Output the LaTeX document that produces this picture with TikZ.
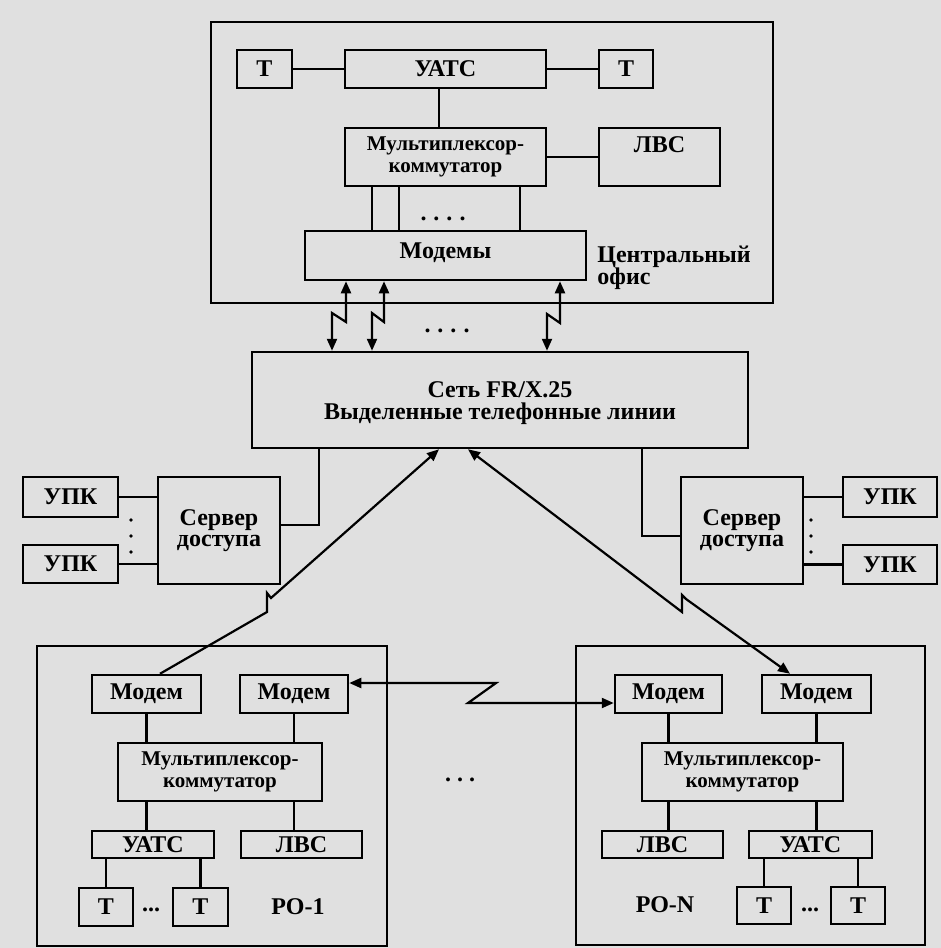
\documentclass[tikz,border=0pt]{standalone}
\usepackage{fontspec}
\setmainfont{Liberation Serif}
\usetikzlibrary{arrows.meta}
\definecolor{bgscan}{RGB}{224,224,224}
\newcommand\dgfont{\fontsize{12}{11}\selectfont\bfseries}
\newcommand\mxfont{\fontsize{10.5}{11}\selectfont\bfseries}
\begin{document}
\begin{tikzpicture}[x=0.5pt,y=-0.5pt,
  box/.style={draw=black, line width=1.25pt, inner sep=0pt, align=center, font=\dgfont},
  mxbox/.style={box, font=\mxfont},
  lbl/.style={inner sep=0pt, align=center, font=\dgfont},
  ln/.style={draw=black, line width=1.1pt},
  >={Triangle[length=6pt,width=5pt]}]
\fill[bgscan] (0,0) rectangle (941,948);
\useasboundingbox (0,0) rectangle (941,948);

% ---------- central office ----------
\node[box, minimum width=281pt, minimum height=140.5pt] (co) at (492,162.5) {};
\node[box, minimum width=27.5pt, minimum height=19pt] (ta) at (264.5,69) {Т};
\node[box, minimum width=100.5pt, minimum height=19pt] (ua) at (445.5,69) {УАТС};
\node[box, minimum width=27pt, minimum height=19pt] (tb) at (626,69) {Т};
\node[mxbox, minimum width=100.5pt, minimum height=29pt] (mxa) at (445.5,157) {Мультиплексор-\\коммутатор};
\node[box, minimum width=60.5pt, minimum height=29pt] (la) at (659.5,157) {ЛВС\\[1pt]\mbox{}};
\node[box, minimum width=140.5pt, minimum height=24.5pt] (mda) at (445.5,255.5) {Модемы\\[-6pt]\mbox{}};
\node[lbl, anchor=west, align=left] (coname) at (597,268) {Центральный\\офис};
\node[lbl] (dots1) at (443,219) {.\hspace{3.5pt}.\hspace{3.5pt}.\hspace{3.5pt}.};

\draw[ln] (ta) -- (ua);
\draw[ln] (ua) -- (tb);
\coordinate (x439) at (439,0);
\draw[ln] (ua.south -| x439) -- (mxa.north -| x439);
\draw[ln] (mxa) -- (la);
\foreach \k/\xx in {k1/372,k2/399,k3/520}{
  \coordinate (\k) at (\xx,0);
  \draw[ln] (mxa.south -| \k) -- (mda.north -| \k);
}

% ---------- network ----------
\node[box, minimum width=248pt, minimum height=48pt] (net) at (500,400) {};
\node[lbl] (nettext) at (500,403) {Сеть FR/X.25\\Выделенные телефонные линии};
\node[lbl] (dots2) at (447,331) {.\hspace{3.5pt}.\hspace{3.5pt}.\hspace{3.5pt}.};

\coordinate (a1u) at (346,322); \coordinate (a1l) at (332,313);
\coordinate (a2u) at (384,322); \coordinate (a2l) at (372,313);
\coordinate (a3u) at (560,323); \coordinate (a3l) at (547,314);
\draw[ln,<->] (mda.south -| a1u) -- (a1u) -- (a1l) -- (net.north -| a1l);
\draw[ln,<->] (mda.south -| a2u) -- (a2u) -- (a2l) -- (net.north -| a2l);
\draw[ln,<->] (mda.south -| a3u) -- (a3u) -- (a3l) -- (net.north -| a3l);

% ---------- access servers ----------
\node[box, minimum width=61pt, minimum height=53.5pt] (sl) at (219,530.5) {Сервер\\[-0.5pt]доступа};
\node[box, minimum width=47.5pt, minimum height=20pt] (ul1) at (70.5,497) {УПК};
\node[box, minimum width=47.5pt, minimum height=19pt] (ul2) at (70.5,564) {УПК};
\node[box, minimum width=61pt, minimum height=53.5pt] (sr) at (742,530.5) {Сервер\\[-0.5pt]доступа};
\node[box, minimum width=47pt, minimum height=20pt] (ur1) at (890,497) {УПК};
\node[box, minimum width=47pt, minimum height=19.5pt] (ur2) at (890,564.5) {УПК};

\draw[ln] (ul1) -- (sl.west |- ul1);
\draw[ln] (ul2) -- (sl.west |- ul2);
\draw[ln] (ur1) -- (sr.east |- ur1);
\draw[ln] (ur2) -- (sr.east |- ur2);
\foreach \yy in {520,536,552}{
  \fill (131,\yy) circle (0.9pt);
  \fill (811,\yy) circle (0.9pt);
}
\coordinate (c1) at (319,525);
\draw[ln] (sl.east |- c1) -| (net.south -| c1);
\coordinate (c2) at (642,536);
\draw[ln] (net.south -| c2) |- (sr.west |- c2);

% ---------- RO-1 ----------
\node[box, minimum width=175pt, minimum height=150pt] (ro1) at (212,796) {};
\node[box, minimum width=54.5pt, minimum height=19pt] (m1l) at (146.5,694) {Модем};
\node[box, minimum width=54pt, minimum height=19pt] (m1r) at (294,694) {Модем};
\node[mxbox, minimum width=102pt, minimum height=29pt] (mx1) at (220,772) {Мультиплексор-\\коммутатор};
\node[box, minimum width=61pt, minimum height=13.5pt] (u1) at (153,844.5) {УАТС};
\node[box, minimum width=60.5pt, minimum height=13.5pt] (l1) at (301.5,844.5) {ЛВС};
\node[box, minimum width=27pt, minimum height=19pt] (t1a) at (106,907) {Т};
\node[box, minimum width=27.5pt, minimum height=19pt] (t1b) at (200.5,907) {Т};
\node[lbl] (d1) at (151,910) {...};
\node[lbl] (ro1name) at (298,907) {РО-1};

\draw[ln] (m1l.south) -- (m1l.south |- mx1.north);
\draw[ln] (m1r.south) -- (m1r.south |- mx1.north);
\draw[ln] (mx1.south -| m1l) -- (u1.north -| m1l);
\draw[ln] (mx1.south -| m1r) -- (l1.north -| m1r);
\draw[ln] (u1.south -| t1a) -- (t1a.north);
\draw[ln] (u1.south -| t1b) -- (t1b.north);

% ---------- RO-N ----------
\node[box, minimum width=174.5pt, minimum height=149.5pt] (ron) at (750.5,795.5) {};
\node[box, minimum width=53.5pt, minimum height=19pt] (mnl) at (668.5,694) {Модем};
\node[box, minimum width=54.5pt, minimum height=19pt] (mnr) at (816.5,694) {Модем};
\node[mxbox, minimum width=100.5pt, minimum height=29pt] (mxn) at (742.5,772) {Мультиплексор-\\коммутатор};
\node[box, minimum width=60.5pt, minimum height=13.5pt] (lnn) at (662.5,844.5) {ЛВС};
\node[box, minimum width=61.5pt, minimum height=13.5pt] (un) at (810.5,844.5) {УАТС};
\node[box, minimum width=27pt, minimum height=18.5pt] (tna) at (764,905.5) {Т};
\node[box, minimum width=27pt, minimum height=18.5pt] (tnb) at (858,905.5) {Т};
\node[lbl] (dn) at (810,910) {...};
\node[lbl] (ronname) at (665,905) {РО-N};

\draw[ln] (mnl.south) -- (mnl.south |- mxn.north);
\draw[ln] (mnr.south) -- (mnr.south |- mxn.north);
\draw[ln] (mxn.south -| mnl) -- (lnn.north -| mnl);
\draw[ln] (mxn.south -| mnr) -- (un.north -| mnr);
\draw[ln] (un.south -| tna) -- (tna.north);
\draw[ln] (un.south -| tnb) -- (tnb.north);

\node[lbl] (dmid) at (460,780) {.\hspace{3pt}.\hspace{3pt}.};

% ---------- long links ----------
\coordinate (p1) at (160,0); \coordinate (z1) at (267,612);
\coordinate (z2) at (267,593); \coordinate (z3) at (271,598);
\coordinate (q1) at (439,0);
\draw[ln,->] (m1l.north -| p1) -- (z1) -- (z2) -- (z3) -- (net.south -| q1);

\coordinate (q2) at (468,0); \coordinate (z4) at (682,612);
\coordinate (z5) at (682,595); \coordinate (z6) at (686,599);
\coordinate (p2) at (790,0);
\draw[ln,<->] (net.south -| q2) -- (z4) -- (z5) -- (z6) -- (mnr.north -| p2);

\coordinate (h1) at (0,683); \coordinate (h2) at (496,683);
\coordinate (h3) at (468,703); \coordinate (h4) at (0,703);
\draw[ln,<->] (m1r.east |- h1) -- (h2) -- (h3) -- (mnl.west |- h4);
\end{tikzpicture}
\end{document}
